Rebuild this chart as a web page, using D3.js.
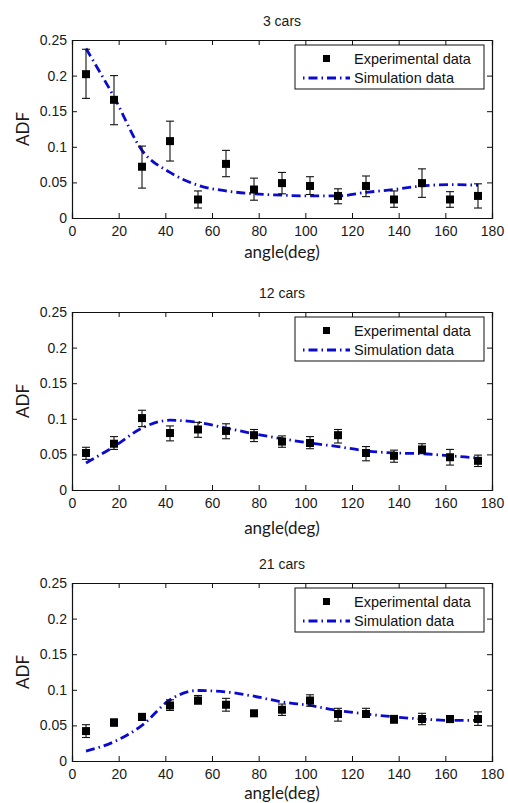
<!DOCTYPE html>
<html>
<head>
<meta charset="utf-8" />
<title>ADF vs angle</title>
<script src="https://d3js.org/d3.v7.min.js"></script>
<style>
  body { margin: 0; background: #fff; }
  .tick text { font-family: "Liberation Sans", Arial, sans-serif; font-size: 14px; fill: #1a1a1a; }
  .title { font-family: "Liberation Sans", Arial, sans-serif; font-size: 14px; fill: #1a1a1a; }
  .axlabel { font-family: Lato, "Open Sans", sans-serif; font-size: 17px; fill: #1a1a1a; }
  .legend text { font-family: "Liberation Sans", Arial, sans-serif; font-size: 14.5px; fill: #111; }
</style>
</head>
<body>
<div id="chart"></div>
<script>
// angles shared by all panels
var angles = [6, 18, 30, 42, 54, 66, 78, 90, 102, 114, 126, 138, 150, 162, 174];
var xTicks = [0, 20, 40, 60, 80, 100, 120, 140, 160, 180];
var yTicks = [0, 0.05, 0.1, 0.15, 0.2, 0.25];
var titles = ["3 cars", "12 cars", "21 cars"];

// experimental values with error bar ends
var exp3 =  [0.202, 0.166, 0.072, 0.108, 0.026, 0.076, 0.040, 0.049, 0.045, 0.031, 0.045, 0.026, 0.049, 0.026, 0.031];
var hi3 =   [0.237, 0.200, 0.101, 0.136, 0.038, 0.095, 0.056, 0.064, 0.058, 0.041, 0.059, 0.038, 0.069, 0.037, 0.048];
var lo3 =   [0.168, 0.131, 0.042, 0.080, 0.014, 0.058, 0.025, 0.034, 0.033, 0.020, 0.030, 0.015, 0.029, 0.015, 0.014];
var sim3 =  [0.238, 0.170, 0.095, 0.064, 0.046, 0.038, 0.034, 0.032, 0.031, 0.031, 0.036, 0.040, 0.045, 0.047, 0.046];

var exp12 = [0.052, 0.065, 0.101, 0.080, 0.085, 0.083, 0.077, 0.068, 0.066, 0.077, 0.052, 0.048, 0.057, 0.046, 0.041];
var hi12 =  [0.060, 0.075, 0.112, 0.090, 0.095, 0.093, 0.085, 0.076, 0.075, 0.085, 0.061, 0.056, 0.065, 0.057, 0.049];
var lo12 =  [0.043, 0.057, 0.089, 0.069, 0.074, 0.072, 0.068, 0.060, 0.058, 0.066, 0.041, 0.039, 0.051, 0.035, 0.033];
var sim12 = [0.038, 0.061, 0.087, 0.098, 0.095, 0.087, 0.079, 0.072, 0.066, 0.061, 0.055, 0.052, 0.051, 0.048, 0.045];

var exp21 = [0.042, 0.054, 0.062, 0.078, 0.085, 0.079, 0.067, 0.072, 0.085, 0.066, 0.066, 0.059, 0.059, 0.059, 0.059];
var hi21 =  [0.051, 0.059, 0.066, 0.086, 0.092, 0.088, 0.071, 0.080, 0.093, 0.074, 0.074, 0.064, 0.067, 0.063, 0.069];
var lo21 =  [0.033, 0.049, 0.057, 0.071, 0.080, 0.070, 0.063, 0.064, 0.077, 0.056, 0.062, 0.053, 0.051, 0.054, 0.050];
var sim21 = [0.014, 0.027, 0.050, 0.086, 0.099, 0.097, 0.091, 0.083, 0.078, 0.071, 0.066, 0.062, 0.059, 0.057, 0.057];

var panels = [
  { exp: exp3, hi: hi3, lo: lo3, sim: sim3 },
  { exp: exp12, hi: hi12, lo: lo12, sim: sim12 },
  { exp: exp21, hi: hi21, lo: lo21, sim: sim21 }
];

var W = 508, H = 803;
var svg = d3.select("#chart").append("svg").attr("width", W).attr("height", H);

var left = 72, right = 492, ph = 178;
var tops = [40, 312, 583];
var labelGap = [34, 38, 32];

var blue = "#0a0ad0";

panels.forEach(function (p, i) {
  var top = tops[i];
  var x = d3.scaleLinear().domain([0, 180]).range([left, right]);
  var y = d3.scaleLinear().domain([0, 0.25]).range([top + ph, top]);
  var g = svg.append("g");

  // box axes, inward ticks on all sides
  g.append("g").attr("transform", "translate(0," + (top + ph) + ")")
    .call(d3.axisBottom(x).tickValues(xTicks).tickSize(-5).tickPadding(8).tickFormat(d3.format("d")));
  g.append("g").attr("transform", "translate(0," + top + ")")
    .call(d3.axisTop(x).tickValues(xTicks).tickSize(-5).tickFormat(""));
  g.append("g").attr("transform", "translate(" + left + ",0)")
    .call(d3.axisLeft(y).tickValues(yTicks).tickSize(-5).tickPadding(5).tickFormat(function (d) { return d === 0 ? "0" : String(+d.toFixed(2)); }));
  g.append("g").attr("transform", "translate(" + right + ",0)")
    .call(d3.axisRight(y).tickValues(yTicks).tickSize(-5).tickFormat(""));
  g.selectAll(".domain").attr("stroke", "#111").attr("stroke-width", 1.2);
  g.selectAll(".tick line").attr("stroke", "#111");

  // title and axis labels
  g.append("text").attr("class", "title").attr("x", (left + right) / 2).attr("y", top - 14)
    .attr("text-anchor", "middle").text(titles[i]);
  g.append("text").attr("class", "axlabel").attr("x", (left + right) / 2).attr("y", top + ph + labelGap[i])
    .attr("dy", "0.35em").attr("text-anchor", "middle").text("angle(deg)");
  g.append("text").attr("class", "axlabel")
    .attr("transform", "translate(23," + (top + ph / 2) + ") rotate(-90)")
    .attr("text-anchor", "middle").attr("dy", "0.35em").text("ADF");

  // simulation line
  var line = d3.line().x(function (d, k) { return x(angles[k]); }).y(function (d) { return y(d); })
    .curve(d3.curveMonotoneX);
  g.append("path").datum(p.sim).attr("d", line).attr("fill", "none")
    .attr("stroke", blue).attr("stroke-width", 2.8).attr("stroke-dasharray", "9,4,1.5,4");

  // error bars
  var eb = g.append("g").attr("stroke", "#111").attr("stroke-width", 1.1);
  angles.forEach(function (a, k) {
    eb.append("line").attr("x1", x(a)).attr("x2", x(a)).attr("y1", y(p.lo[k])).attr("y2", y(p.hi[k]));
    eb.append("line").attr("x1", x(a) - 4).attr("x2", x(a) + 4).attr("y1", y(p.lo[k])).attr("y2", y(p.lo[k]));
    eb.append("line").attr("x1", x(a) - 4).attr("x2", x(a) + 4).attr("y1", y(p.hi[k])).attr("y2", y(p.hi[k]));
  });
  g.selectAll("rect.pt").data(p.exp).enter().append("rect").attr("class", "pt")
    .attr("x", function (d, k) { return x(angles[k]) - 4; })
    .attr("y", function (d) { return y(d) - 4; })
    .attr("width", 8).attr("height", 8).attr("fill", "#000");

  // legend
  var lg = g.append("g").attr("class", "legend");
  lg.append("rect").attr("x", 295).attr("y", top + 5).attr("width", 189).attr("height", 44)
    .attr("fill", "#fff").attr("stroke", "#111").attr("stroke-width", 1);
  lg.append("rect").attr("x", 323).attr("y", top + 15).attr("width", 7).attr("height", 7).attr("fill", "#000");
  lg.append("line").attr("x1", 303).attr("x2", 350).attr("y1", top + 38).attr("y2", top + 38)
    .attr("stroke", blue).attr("stroke-width", 2.8).attr("stroke-dasharray", "1.5,4,9,4");
  lg.append("text").attr("x", 354).attr("y", top + 19).attr("dy", "0.35em").text("Experimental data");
  lg.append("text").attr("x", 354).attr("y", top + 38).attr("dy", "0.35em").text("Simulation data");
});
</script>
</body>
</html>
